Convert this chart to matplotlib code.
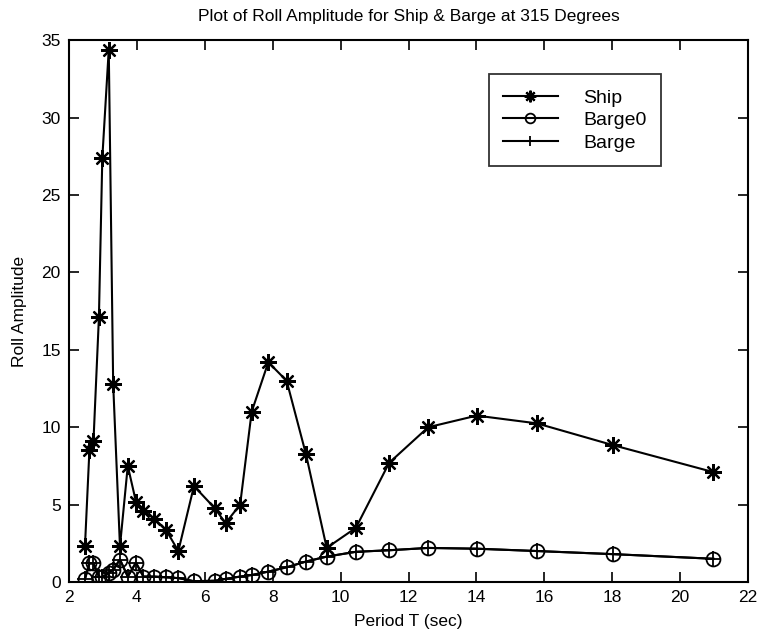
import matplotlib
matplotlib.use("Agg")
import matplotlib.pyplot as plt

# periods (sec) and roll amplitudes
period = [2.47, 2.6, 2.72, 2.88, 2.98, 3.17, 3.3, 3.5, 3.73, 3.97, 4.19,
          4.51, 4.86, 5.22, 5.68, 6.3, 6.61, 7.04, 7.38, 7.87, 8.41, 8.98,
          9.59, 10.45, 11.43, 12.58, 14.01, 15.78, 18.01, 20.98]

ship = [2.35, 8.5, 9.1, 17.1, 27.4, 34.4, 12.8, 2.3, 7.5, 5.2, 4.6,
        4.1, 3.35, 2.0, 6.2, 4.75, 3.8, 5.0, 11.0, 14.2, 13.0, 8.25,
        2.2, 3.5, 7.7, 10.0, 10.75, 10.25, 8.85, 7.1]

barge0 = [0.2, 1.2, 1.2, 0.35, 0.3, 0.6, 0.8, 1.45, 0.35, 1.25, 0.35,
          0.35, 0.3, 0.25, 0.05, 0.08, 0.2, 0.35, 0.45, 0.67, 0.95, 1.32,
          1.64, 1.95, 2.05, 2.2, 2.15, 2.0, 1.8, 1.5]

barge = [0.2, 1.2, 1.2, 0.35, 0.3, 0.6, 0.8, 1.45, 0.35, 1.25, 0.35,
         0.35, 0.3, 0.25, 0.05, 0.08, 0.2, 0.35, 0.45, 0.67, 0.95, 1.32,
         1.64, 1.95, 2.05, 2.2, 2.15, 2.0, 1.8, 1.5]

plt.rcParams["font.family"] = ["Liberation Sans", "DejaVu Sans"]

fig = plt.figure(figsize=(7.62, 6.38), dpi=100)
ax = fig.add_axes([0.0906, 0.0878, 0.891, 0.849])

# MATLAB style asterisk = plus + cross
ax.plot(period, ship, color="k", lw=1.5, marker=(8, 2, 0), ms=12, mew=1.6, label="Ship")
ax.plot(period, barge0, color="k", lw=1.5, marker="o", ms=10, mfc="none", mew=1.3, label="Barge0")
ax.plot(period, barge, color="k", lw=1.5, marker="+", ms=11, mew=1.3, label="Barge")

ax.set_xlim(2, 22)
ax.set_ylim(0, 35)
ax.set_xticks(range(2, 23, 2))
ax.set_yticks(range(0, 36, 5))
ax.tick_params(direction="in", top=True, right=True, length=7, width=1.2, labelsize=12.5, pad=6)
for s in ax.spines.values():
    s.set_linewidth(1.5)

ax.set_title("Plot of Roll Amplitude for Ship & Barge at 315 Degrees", fontsize=12.5, pad=14)
ax.set_xlabel("Period T (sec)", fontsize=12.5, labelpad=6)
ax.set_ylabel("Roll Amplitude", fontsize=12.5, labelpad=10)

leg = ax.legend(loc="upper right", bbox_to_anchor=(0.886, 0.955), fontsize=14,
                frameon=True, fancybox=False, edgecolor="k", handlelength=2.8,
                markerscale=0.7, borderpad=0.75, labelspacing=0.25, handletextpad=1.3)
leg.get_frame().set_linewidth(1.3)

fig.savefig("out.png", dpi=100)
